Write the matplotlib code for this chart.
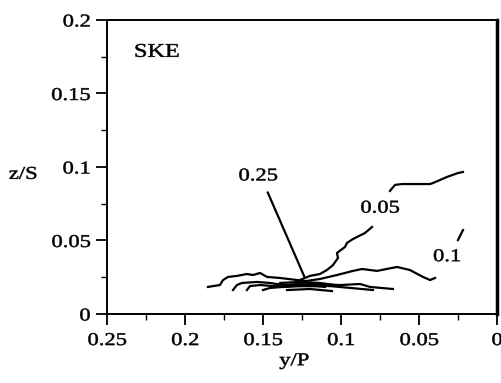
import matplotlib
matplotlib.use("Agg")
import matplotlib.pyplot as plt
import numpy as np
from matplotlib.patheffects import AbstractPathEffect
from matplotlib.transforms import Affine2D
from matplotlib.ticker import MultipleLocator, FuncFormatter

plt.rcParams['font.family'] = ['Liberation Serif', 'DejaVu Serif']

# contour 0.05 (broken around its label)
c05_x = [0.1263, 0.1199, 0.1135, 0.1090, 0.1051, 0.1019, 0.1026, 0.0974, 0.0962, 0.0923, 0.0846, 0.0801,
         np.nan,
         0.0686, 0.0654, 0.0609, 0.0545, 0.0429, 0.0410, 0.0321, 0.0250, 0.0218]
c05_y = [0.0231, 0.0259, 0.0272, 0.0299, 0.0333, 0.0381, 0.0415, 0.0456, 0.0483, 0.0510, 0.0551, 0.0592,
         np.nan,
         0.0837, 0.0878, 0.0884, 0.0884, 0.0884, 0.0891, 0.0932, 0.0959, 0.0966]

# contour 0.1
c10_x = [0.1263, 0.1135, 0.1026, 0.0923, 0.0865, 0.0769, 0.0641, 0.0558, 0.0474, 0.0429, 0.0397,
         np.nan, 0.0218, 0.0250]
c10_y = [0.0218, 0.0238, 0.0265, 0.0293, 0.0306, 0.0293, 0.0320, 0.0299, 0.0252, 0.0231, 0.0245,
         np.nan, 0.0571, 0.0503]

# inner contours clustered round the vortex core
inner = [
    ([0.1853, 0.1776, 0.1756, 0.1724, 0.1667, 0.1603, 0.1564, 0.1519, 0.1474, 0.1391, 0.1282, 0.1231],
     [0.0184, 0.0197, 0.0231, 0.0252, 0.0259, 0.0272, 0.0265, 0.0279, 0.0252, 0.0245, 0.0231, 0.0224]),
    ([0.1692, 0.1667, 0.1635, 0.1538, 0.1455, 0.1372, 0.1263],
     [0.0163, 0.0197, 0.0211, 0.0218, 0.0211, 0.0197, 0.0204]),
    ([0.1603, 0.1583, 0.1519, 0.1436, 0.1327, 0.1231],
     [0.0163, 0.0190, 0.0197, 0.0190, 0.0190, 0.0204]),
    ([0.1500, 0.1455, 0.1372, 0.1263, 0.1167],
     [0.0163, 0.0177, 0.0184, 0.0190, 0.0190]),
    ([0.1295, 0.1199, 0.1006, 0.0878, 0.0814, 0.0667],
     [0.0211, 0.0204, 0.0197, 0.0204, 0.0184, 0.0170]),
    ([0.1346, 0.1199, 0.1058],
     [0.0163, 0.0170, 0.0156]),
    ([0.1295, 0.1071, 0.0795],
     [0.0190, 0.0190, 0.0163]),
    ([0.1391, 0.1263, 0.1135, 0.1040],
     [0.0211, 0.0218, 0.0211, 0.0197]),
    ([0.1372, 0.1231, 0.1103],
     [0.0184, 0.0197, 0.0184]),
]


class Stretch(AbstractPathEffect):
    """Widen text horizontally (the scanned original has wide, heavy lettering)"""

    def __init__(self, sx=1.25, anchor='center'):
        super().__init__()
        self.sx = sx
        self.anchor = anchor

    def draw_path(self, renderer, gc, tpath, affine, rgbFace=None):
        if len(tpath.vertices) == 0:
            return
        xs = affine.transform(tpath.vertices)[:, 0]
        cx = xs.max() if self.anchor == 'right' else 0.5 * (xs.min() + xs.max())
        t = affine + Affine2D().translate(-cx, 0).scale(self.sx, 1).translate(cx, 0)
        gc0 = renderer.new_gc()
        gc0.copy_properties(gc)
        gc0.set_linewidth(0.35)
        gc0.set_foreground('black')
        renderer.draw_path(gc0, tpath, t, rgbFace)
        gc0.restore()


wide = [Stretch()]
wide_right = [Stretch(anchor='right')]

fig = plt.figure(figsize=(5.02, 3.83), dpi=100)
ax = fig.add_axes([0.2131, 0.1802, 0.7769, 0.7676])

lw = 1.6
ax.plot(c05_x, c05_y, color='black', lw=lw)
ax.plot(c10_x, c10_y, color='black', lw=lw)
for xs, ys in inner:
    ax.plot(xs, ys, color='black', lw=lw)

fs = 13
ax.annotate('0.25', xy=(0.1231, 0.0245), xytext=(0.1532, 0.0939),
            fontsize=fs, ha='center', va='center', path_effects=wide,
            arrowprops=dict(arrowstyle='-', color='black', lw=lw, shrinkA=4, shrinkB=0,
                            relpos=(0.7, 0.0)))
ax.text(0.0751, 0.0720, '0.05', fontsize=fs, ha='center', va='center', path_effects=wide)
ax.text(0.0321, 0.0390, '0.1', fontsize=fs, ha='center', va='center', path_effects=wide)
ax.text(0.2180, 0.1780, 'SKE', fontsize=14, ha='center', va='center', path_effects=wide)

ax.set_xlim(0.25, 0)
ax.set_ylim(0, 0.2)
ax.xaxis.set_major_locator(MultipleLocator(0.05))
ax.xaxis.set_minor_locator(MultipleLocator(0.025))
ax.yaxis.set_major_locator(MultipleLocator(0.05))
ax.yaxis.set_minor_locator(MultipleLocator(0.025))
fmt = FuncFormatter(lambda v, p: ('%.2f' % v).rstrip('0').rstrip('.') if abs(v) > 1e-9 else '0')
ax.xaxis.set_major_formatter(fmt)
ax.yaxis.set_major_formatter(fmt)
ax.tick_params(which='major', direction='out', length=8, width=1.3, labelsize=fs, pad=4)
ax.tick_params(which='minor', direction='out', length=4, width=1.0)
ax.tick_params(top=False, right=False)
ax.tick_params(axis='x', pad=5)
for s in ax.spines.values():
    s.set_linewidth(1.4)
ax.spines['right'].set_linewidth(2.5)

fig.canvas.draw()
for lab in ax.get_xticklabels():
    lab.set_path_effects(wide)
for lab in ax.get_yticklabels():
    lab.set_path_effects(wide_right)

ax.set_xlabel('y/P', fontsize=fs, labelpad=0, path_effects=wide)
ax.xaxis.set_label_coords(0.48, -0.13)
ax.set_ylabel('z/S', fontsize=fs, rotation=0, va='center', path_effects=wide)
ax.yaxis.set_label_coords(-0.215, 0.475)

fig.savefig('out.png', dpi=100)
